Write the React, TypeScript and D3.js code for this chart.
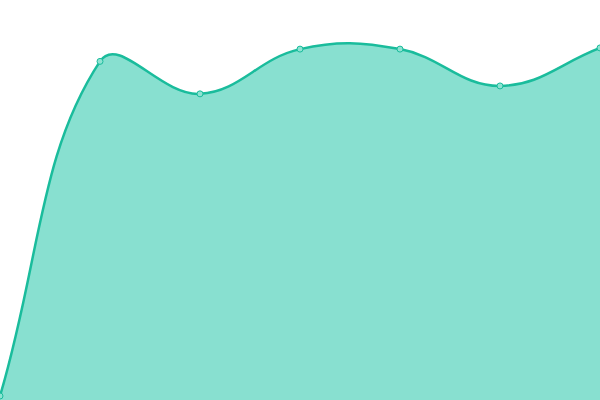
import React, { useEffect, useRef } from 'react';
import * as d3 from 'd3';

const labels = ['1', '2', '3', '4', '5', '6', '7'];
const values = [0, 84.5, 76.3, 87.6, 87.6, 78.3, 87.9];

const width = 600;
const height = 400;
const tension = 0.4;

type Pt = { x: number; y: number };

// control points like a monotone-free spline: each point pulls its neighbours by distance
const controlPoints = (pts: Pt[]) => {
    return pts.map((cur, i) => {
        const prev = pts[i - 1] || cur;
        const next = pts[i + 1] || cur;
        const d01 = Math.hypot(cur.x - prev.x, cur.y - prev.y);
        const d12 = Math.hypot(next.x - cur.x, next.y - cur.y);
        const sum = d01 + d12 || 1;
        const fa = tension * (d01 / sum);
        const fb = tension * (d12 / sum);
        return {
            before: { x: cur.x - fa * (next.x - prev.x), y: cur.y - fa * (next.y - prev.y) },
            after: { x: cur.x + fb * (next.x - prev.x), y: cur.y + fb * (next.y - prev.y) },
        };
    });
};

const App: React.FC = () => {
    const ref = useRef<SVGSVGElement>(null);

    useEffect(() => {
        const svg = d3.select(ref.current);
        svg.selectAll('*').remove();

        const x = d3.scalePoint<string>().domain(labels).range([0, width]);
        const y = d3.scaleLinear().domain([0, 100]).range([396, 0]);

        const pts: Pt[] = values.map((v, i) => ({ x: x(labels[i]) as number, y: y(v) }));
        const cps = controlPoints(pts);

        const linePath = (p: d3.Path) => {
            p.moveTo(pts[0].x, pts[0].y);
            for (let i = 0; i < pts.length - 1; i++) {
                const a = cps[i].after;
                const b = cps[i + 1].before;
                p.bezierCurveTo(a.x, a.y, b.x, b.y, pts[i + 1].x, pts[i + 1].y);
            }
            return p;
        };

        const area = linePath(d3.path());
        area.lineTo(pts[pts.length - 1].x, height);
        area.lineTo(pts[0].x, height);
        area.closePath();

        svg.append('path')
            .attr('d', area.toString())
            .attr('fill', '#88e0d0');

        svg.append('path')
            .attr('d', linePath(d3.path()).toString())
            .attr('fill', 'none')
            .attr('stroke', '#1abc9c')
            .attr('stroke-width', 2.5);

        svg.selectAll('circle')
            .data(pts)
            .enter()
            .append('circle')
            .attr('cx', (d) => d.x)
            .attr('cy', (d) => d.y)
            .attr('r', 3)
            .attr('fill', '#8ee3d2')
            .attr('stroke', '#1abc9c')
            .attr('stroke-width', 1);
    }, []);

    return (
        <svg ref={ref} width={width} height={height}
            style={{ position: 'absolute', top: 0, left: 0, background: '#fff' }}>
        </svg>
    );
};

export default App;
